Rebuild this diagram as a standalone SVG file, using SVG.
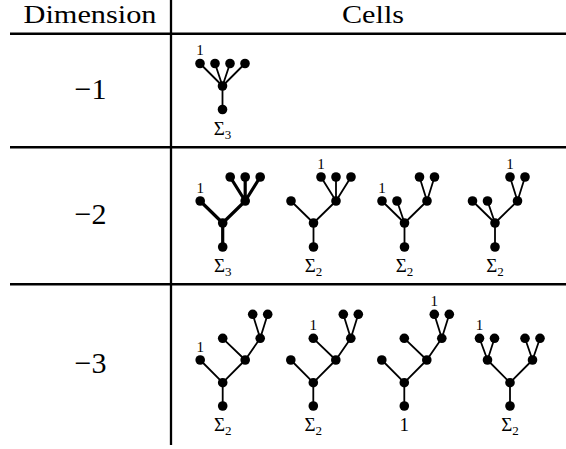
<svg xmlns="http://www.w3.org/2000/svg" width="566" height="449" viewBox="0 0 566 449">
<style>
.bg{fill:#fff}
.rule{stroke:#000;stroke-width:2.6}
.vrule{stroke:#000;stroke-width:2.3}
.e{stroke:#000;stroke-width:1.8;fill:none;stroke-linecap:round}
.eb{stroke:#000;stroke-width:3.2;fill:none;stroke-linecap:round}
.n{fill:#000}
text{font-family:'Liberation Serif','Times New Roman','DejaVu Serif',serif;fill:#000;text-anchor:middle}
.hd{font-size:26px}
.rw{font-size:30px}
.one{font-size:15px}
.sg{font-size:19px}
.sub{font-size:13px}
</style>
<defs>
<circle id="d" r="4.8" class="n"/>
</defs>
<rect class="bg" x="0" y="0" width="566" height="449"/>
<g id="table" font-family="Liberation Serif, serif">
<line class="vrule" x1="171" y1="0" x2="171" y2="445"/>
<line class="rule" x1="10" y1="33.7" x2="566" y2="33.7"/>
<line class="rule" x1="10" y1="147.3" x2="566" y2="147.3"/>
<line class="rule" x1="10" y1="284.3" x2="566" y2="284.3"/>
<text class="hd" x="90" y="23" textLength="133" lengthAdjust="spacingAndGlyphs">Dimension</text>
<text class="hd" x="373" y="23" textLength="62" lengthAdjust="spacingAndGlyphs">Cells</text>
<text class="rw" x="90.5" y="98.5">−1</text>
<text class="rw" x="90.5" y="223.5">−2</text>
<text class="rw" x="90.5" y="372.5">−3</text>
</g>
<g id="connectors">
<path class="e" d="M222.5,109.5 V86 M222.5,86 L200,63.5 M222.5,86 L215,63.5 M222.5,86 L230,63.5 M222.5,86 L245,63.5"/>
<path class="eb" d="M222.7,247 V223 M222.7,223 L200.2,201 M222.7,223 L245.2,201 M245.2,201 L230.2,177 M245.2,201 V177 M245.2,201 L260.2,177"/>
<path class="e" d="M313.5,247 V223 M313.5,223 L291,201 M313.5,223 L336,201 M336,201 L321,177 M336,201 V177 M336,201 L351,177"/>
<path class="e" d="M404.5,247 V223 M404.5,223 L382,201 M404.5,223 L397,201 M404.5,223 L427,201 M427,201 L419.5,177 M427,201 L434.5,177"/>
<path class="e" d="M495,247 V223 M495,223 L472.5,201 M495,223 L487.5,201 M495,223 L517.5,201 M517.5,201 L510,177 M517.5,201 L525,177"/>
<path class="e" d="M222.7,406 V382.7 M222.7,382.7 L200.2,360 M222.7,382.7 L245.2,360 M245.2,360 L222.7,338.3 M245.2,360 L260.2,338.3 M260.2,338.3 L252.7,314.3 M260.2,338.3 L267.7,314.3"/>
<path class="e" d="M313.3,406 V382.7 M313.3,382.7 L290.8,360 M313.3,382.7 L335.8,360 M335.8,360 L313.3,338.3 M335.8,360 L350.8,338.3 M350.8,338.3 L343.3,314.3 M350.8,338.3 L358.3,314.3"/>
<path class="e" d="M404.3,406 V382.7 M404.3,382.7 L381.8,360 M404.3,382.7 L426.8,360 M426.8,360 L404.3,338.3 M426.8,360 L441.8,338.3 M441.8,338.3 L434.3,314.3 M441.8,338.3 L449.3,314.3"/>
<path class="e" d="M510,406 V382.7 M510,382.7 L487.5,360 M510,382.7 L532.5,360 M487.5,360 L479.5,338.3 M487.5,360 L494.5,338.3 M532.5,360 L525,338.3 M532.5,360 L540,338.3"/>
</g>
<g id="tree-r1">
<use href="#d" x="222.5" y="109.5"/><use href="#d" x="222.5" y="86"/>
<use href="#d" x="200" y="63.5"/><use href="#d" x="215" y="63.5"/><use href="#d" x="230" y="63.5"/><use href="#d" x="245" y="63.5"/>
<text class="one" x="200" y="55">1</text>
<text class="sg" x="222.5" y="135">Σ<tspan class="sub" dy="4">3</tspan></text>
</g>
<g id="tree-r2a">
<use href="#d" x="222.7" y="247"/><use href="#d" x="222.7" y="223"/>
<use href="#d" x="200.2" y="201"/><use href="#d" x="245.2" y="201"/>
<use href="#d" x="230.2" y="177"/><use href="#d" x="245.2" y="177"/><use href="#d" x="260.2" y="177"/>
<text class="one" x="200.2" y="193">1</text>
<text class="sg" x="222.7" y="272">Σ<tspan class="sub" dy="4">3</tspan></text>
</g>
<g id="tree-r2b">
<use href="#d" x="313.5" y="247"/><use href="#d" x="313.5" y="223"/>
<use href="#d" x="291" y="201"/><use href="#d" x="336" y="201"/>
<use href="#d" x="321" y="177"/><use href="#d" x="336" y="177"/><use href="#d" x="351" y="177"/>
<text class="one" x="321" y="169">1</text>
<text class="sg" x="313.5" y="272">Σ<tspan class="sub" dy="4">2</tspan></text>
</g>
<g id="tree-r2c">
<use href="#d" x="404.5" y="247"/><use href="#d" x="404.5" y="223"/>
<use href="#d" x="382" y="201"/><use href="#d" x="397" y="201"/><use href="#d" x="427" y="201"/>
<use href="#d" x="419.5" y="177"/><use href="#d" x="434.5" y="177"/>
<text class="one" x="382" y="193">1</text>
<text class="sg" x="404.5" y="272">Σ<tspan class="sub" dy="4">2</tspan></text>
</g>
<g id="tree-r2d">
<use href="#d" x="495" y="247"/><use href="#d" x="495" y="223"/>
<use href="#d" x="472.5" y="201"/><use href="#d" x="487.5" y="201"/><use href="#d" x="517.5" y="201"/>
<use href="#d" x="510" y="177"/><use href="#d" x="525" y="177"/>
<text class="one" x="510" y="169">1</text>
<text class="sg" x="495" y="272">Σ<tspan class="sub" dy="4">2</tspan></text>
</g>
<g id="tree-r3e">
<use href="#d" x="222.7" y="406"/><use href="#d" x="222.7" y="382.7"/>
<use href="#d" x="200.2" y="360"/><use href="#d" x="245.2" y="360"/>
<use href="#d" x="222.7" y="338.3"/><use href="#d" x="260.2" y="338.3"/>
<use href="#d" x="252.7" y="314.3"/><use href="#d" x="267.7" y="314.3"/>
<text class="one" x="200.2" y="352">1</text>
<text class="sg" x="222.7" y="431">Σ<tspan class="sub" dy="4">2</tspan></text>
</g>
<g id="tree-r3f">
<use href="#d" x="313.3" y="406"/><use href="#d" x="313.3" y="382.7"/>
<use href="#d" x="290.8" y="360"/><use href="#d" x="335.8" y="360"/>
<use href="#d" x="313.3" y="338.3"/><use href="#d" x="350.8" y="338.3"/>
<use href="#d" x="343.3" y="314.3"/><use href="#d" x="358.3" y="314.3"/>
<text class="one" x="313.3" y="330">1</text>
<text class="sg" x="313.3" y="431">Σ<tspan class="sub" dy="4">2</tspan></text>
</g>
<g id="tree-r3g">
<use href="#d" x="404.3" y="406"/><use href="#d" x="404.3" y="382.7"/>
<use href="#d" x="381.8" y="360"/><use href="#d" x="426.8" y="360"/>
<use href="#d" x="404.3" y="338.3"/><use href="#d" x="441.8" y="338.3"/>
<use href="#d" x="434.3" y="314.3"/><use href="#d" x="449.3" y="314.3"/>
<text class="one" x="434.3" y="306">1</text>
<text class="sg" x="404.3" y="431">1</text>
</g>
<g id="tree-r3h">
<use href="#d" x="510" y="406"/><use href="#d" x="510" y="382.7"/>
<use href="#d" x="487.5" y="360"/><use href="#d" x="532.5" y="360"/>
<use href="#d" x="479.5" y="338.3"/><use href="#d" x="494.5" y="338.3"/>
<use href="#d" x="525" y="338.3"/><use href="#d" x="540" y="338.3"/>
<text class="one" x="479.5" y="330">1</text>
<text class="sg" x="510" y="431">Σ<tspan class="sub" dy="4">2</tspan></text>
</g>
</svg>
